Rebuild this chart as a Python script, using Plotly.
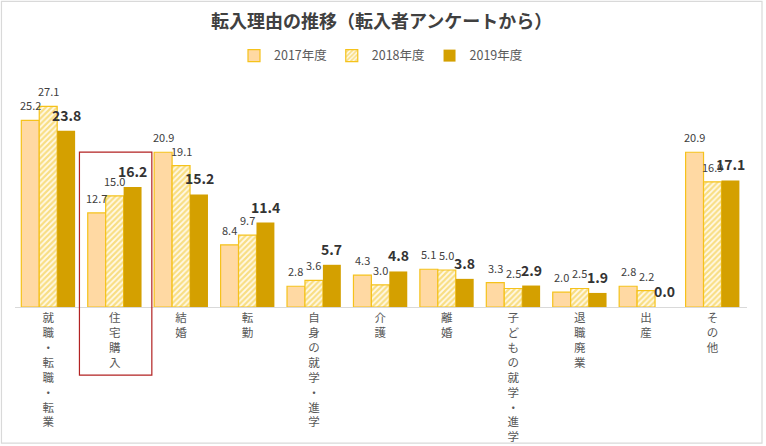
import plotly.graph_objects as go

categories = ["就職・転職・転業", "住宅購入", "結婚", "転勤", "自身の就学・進学", "介護",
              "離婚", "子どもの就学・進学", "退職廃業", "出産", "その他"]
series_names = ["2017年度", "2018年度", "2019年度"]
v2017 = [25.2, 12.7, 20.9, 8.4, 2.8, 4.3, 5.1, 3.3, 2.0, 2.8, 20.9]
v2018 = [27.1, 15.0, 19.1, 9.7, 3.6, 3.0, 5.0, 2.5, 2.5, 2.2, 16.9]
v2019 = [23.8, 16.2, 15.2, 11.4, 5.7, 4.8, 3.8, 2.9, 1.9, 0.0, 17.1]
title_text = "転入理由の推移（転入者アンケートから）"

FONT = "Noto Sans CJK JP"
tick_text = ["<br>".join(list(c)) for c in categories]

fig = go.Figure()
fig.add_trace(go.Bar(
    name=series_names[0], x=categories, y=v2017,
    marker=dict(color="#FFD9A3", line=dict(color="#F5C21B", width=1.2)),
))
fig.add_trace(go.Bar(
    name=series_names[1], x=categories, y=v2018,
    marker=dict(color="#FFF6DC", line=dict(color="#F5C21B", width=1.2),
                pattern=dict(shape="/", fgcolor="#F2C31C", bgcolor="#FFF9EA",
                             size=4, solidity=0.55)),
))
fig.add_trace(go.Bar(
    name=series_names[2], x=categories, y=v2019,
    marker=dict(color="#D4A000", line=dict(color="#D4A000", width=0)),
))

annotations = []
for i, vals in enumerate([v2017, v2018, v2019]):
    bold = i == 2
    for c, v in zip(categories, vals):
        annotations.append(dict(
            x=c, y=v, xref="x", yref="y", text=f"<b>{v:.1f}</b>" if bold else f"{v:.1f}",
            showarrow=False, xanchor="center", yanchor="bottom",
            xshift=(i - 1) * 18, yshift=5 if not bold else 4,
            font=dict(family=FONT, size=14 if bold else 11,
                      color="#333333" if bold else "#404040"),
        ))

annotations.append(dict(
    x=0.5, y=1.341, xref="paper", yref="paper", text=f"<b>{title_text}</b>",
    showarrow=False, xanchor="center", yanchor="middle",
    font=dict(family=FONT, size=18, color="#404040"),
))

shapes = [
    # highlight box around 住宅購入
    dict(type="rect", xref="x", yref="paper", x0=1 - 0.53, x1=1 + 0.56,
         y0=-0.318, y1=0.724, line=dict(color="#B22222", width=1.2), fillcolor="rgba(0,0,0,0)"),
    # outer chart border
    dict(type="rect", xref="paper", yref="paper", x0=-0.0185, x1=1.0205,
         y0=-0.636, y1=1.428, line=dict(color="#D9D9D9", width=1.2), fillcolor="rgba(0,0,0,0)"),
]

fig.update_layout(
    width=766, height=446,
    margin=dict(l=15, r=19, t=93, b=139, autoexpand=False),
    paper_bgcolor="white", plot_bgcolor="white",
    barmode="group", bargap=0.19, bargroupgap=0,
    showlegend=True,
    legend=dict(orientation="h", x=0.5, xanchor="center", y=1.173, yanchor="middle",
                font=dict(family=FONT, size=12.5, color="#595959"),
                itemwidth=30, traceorder="normal"),
    annotations=annotations,
    shapes=shapes,
    font=dict(family=FONT),
)
fig.update_xaxes(
    tickmode="array", tickvals=categories, ticktext=tick_text,
    showline=True, linecolor="#D9D9D9", linewidth=1, ticks="",
    tickfont=dict(family=FONT, size=11.5, color="#595959"),
    showgrid=False, automargin=False,
)
fig.update_yaxes(range=[0, 28.9], visible=False, showgrid=False, automargin=False)

fig.write_html(
    "out.html",
    config={"displayModeBar": False},
    post_script="document.body.style.margin='0';document.body.style.overflow='hidden';",
)
